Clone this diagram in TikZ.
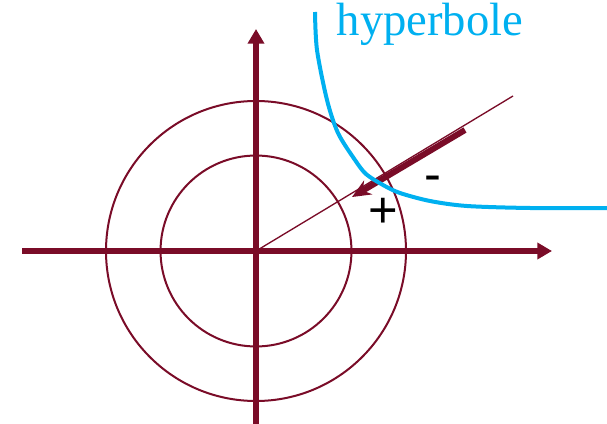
\documentclass[tikz,border=0pt]{standalone}
\usepackage{fontspec}
\setmainfont{Liberation Serif}
\newfontfamily\plusfont{Liberation Sans}
\usetikzlibrary{arrows.meta,positioning,calc}
\definecolor{wine}{RGB}{122,12,40}
\definecolor{skyline}{RGB}{0,176,240}
\begin{document}
\begin{tikzpicture}[x=0.75pt, y=-0.75pt,
    axis/.style={draw=wine, line width=3.8pt, -{Triangle[length=11pt,width=12pt]}},
    ring/.style={draw=wine, line width=1.5pt},
    ray/.style={draw=wine, line width=1pt},
    force/.style={draw=wine, line width=4.5pt, -{Stealth[length=14pt,width=12pt]}},
    curve/.style={draw=skyline, line width=3pt},
    sign/.style={font=\plusfont\fontsize{38}{38}\selectfont, text=black, inner sep=0pt}
]
\useasboundingbox (0,0) rectangle (607,424);

\coordinate (O) at (256,251);
\coordinate (xstart) at (22,251);
\coordinate (xend) at (552,251);
\coordinate (ybottom) at (256,424);
\coordinate (ytop) at (256,29);
\coordinate (rayend) at (513,96);
\coordinate (ftail) at (465,130);
\coordinate (fhead) at (352,197);

% circles
\draw[ring] (O) circle[radius=112.5pt];
\draw[ring] (O) circle[radius=71.6pt];

% axes
\draw[axis] (xstart) -- (xend);
\draw[axis] (ybottom) -- (ytop);

% direction and force
\draw[ray] (O) -- (rayend);
\draw[force] (ftail) -- (fhead);

% hyperbola
\draw[curve] plot[smooth, tension=0.5] coordinates {(315,12) (317,50) (327,100) (338,133) (355,160) (366,174) (383,185) (400,193) (430,201) (467,206) (530,208) (607,208)};
\node[text=skyline, font=\fontsize{35}{35}\selectfont, inner sep=0pt, anchor=base] (hyp) at (430,36) {hyperbole};

% signs
\node[sign] (plus) at (383,213) {+};
\node[sign] (minus) at (433,184) {-};
\end{tikzpicture}
\end{document}
